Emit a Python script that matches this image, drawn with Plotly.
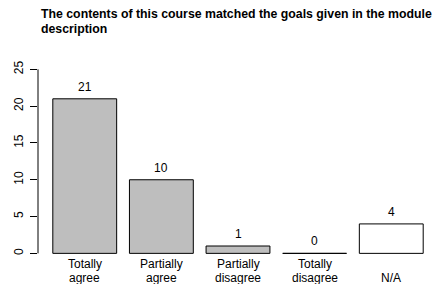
import plotly.graph_objects as go

categories = ["Totally\nagree", "Partially\nagree", "Partially\ndisagree", "Totally\ndisagree", "\nN/A"]
values = [21, 10, 1, 0, 4]
bar_colors = ["#bebebe", "#bebebe", "#bebebe", "#bebebe", "#ffffff"]
y_ticks = [0, 5, 10, 15, 20, 25]
title_lines = ["The contents of this course matched the goals given in the module", "description"]

# R barplot geometry: width 1, space 0.2
centers = [0.7 + 1.2 * i for i in range(len(values))]

OFF = 8  # page body margin
W, H = 441 - OFF, 284 - OFF
plot_left, plot_right = 38 - OFF, 438 - OFF
plot_top, plot_bottom = 62 - OFF, 256 - OFF
plot_h = plot_bottom - plot_top
px_per_unit = (253 - 69) / 25.0
y_top = 26
y_bottom = y_top - plot_h / px_per_unit
FONT = "Liberation Sans, Arial, sans-serif"

fig = go.Figure()
fig.add_trace(go.Bar(
    x=centers, y=values, width=1.0,
    marker=dict(color=bar_colors, line=dict(color="black", width=1)),
    showlegend=False, hoverinfo="skip",
))

for c, v in zip(centers, values):
    fig.add_annotation(x=c, y=v, text=str(v), showarrow=False, yanchor="bottom",
                       yshift=3, font=dict(family=FONT, size=12, color="black"))

def py(pix):
    return (plot_bottom - (pix - OFF)) / plot_h

# category labels, one annotation per line (R-like spacing)
for c, lab in zip(centers, categories):
    for k, line in enumerate(lab.split("\n")):
        if not line:
            continue
        fig.add_annotation(x=c, xref="x", y=py(264 + 14 * k), yref="paper", text=line,
                           showarrow=False, yanchor="middle", xanchor="center",
                           font=dict(family=FONT, size=12, color="black"))

# title, left aligned
for k, line in enumerate(title_lines):
    fig.add_annotation(x=(39 - OFF - plot_left) / (plot_right - plot_left), xref="paper",
                       y=py(14 + 15 * k), yref="paper", text="<b>" + line + "</b>",
                       showarrow=False, xanchor="left", yanchor="middle",
                       font=dict(family=FONT, size=12.3, color="black"))

# R-style y axis line spanning only tick range
fig.add_shape(type="line", xref="paper", yref="y", x0=0, x1=0,
              y0=min(y_ticks), y1=max(y_ticks), line=dict(color="black", width=1))

fig.update_layout(
    width=W, height=H,
    margin=dict(l=plot_left, r=W - plot_right, t=plot_top, b=H - plot_bottom, pad=0),
    plot_bgcolor="white", paper_bgcolor="white",
    font=dict(family=FONT, size=12, color="black"),
    xaxis=dict(range=[-0.032, 6.232], showticklabels=False, automargin=False,
               showgrid=False, zeroline=False, showline=False, ticks=""),
    yaxis=dict(range=[y_bottom, y_top], tickvals=y_ticks, showgrid=False, zeroline=False,
               showline=False, ticks="outside", ticklen=7, tickcolor="black", tickwidth=1,
               tickangle=-90, tickfont=dict(size=12), automargin=False,
               ticklabelstandoff=2),
)

fig.write_html("out.html")
